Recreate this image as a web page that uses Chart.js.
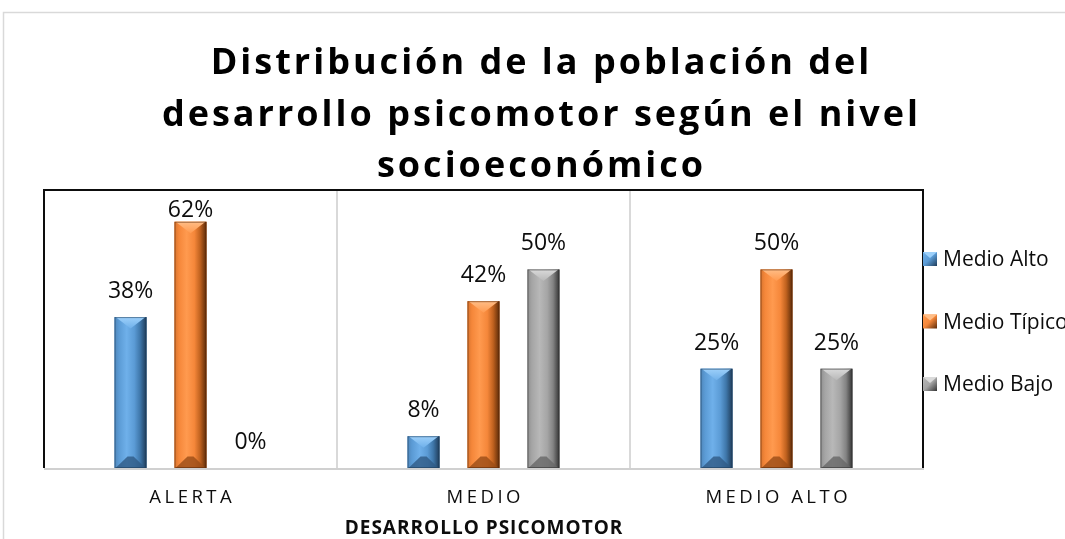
<!DOCTYPE html>
<html>
<head>
<meta charset="utf-8">
<script src="https://cdn.jsdelivr.net/npm/chart.js@4.4.1/dist/chart.umd.min.js"></script>
<style>
  html, body { margin: 0; padding: 0; background: #ffffff; }
  canvas { display: block; }
</style>
</head>
<body>
<canvas id="c" width="1065" height="539"></canvas>
<script>
// ---- data ----
const categories = ['ALERTA', 'MEDIO', 'MEDIO ALTO'];
const seriesNames = ['Medio Alto', 'Medio Típico', 'Medio Bajo'];
const medioAlto = [0.38, 0.08, 0.25];
const medioTipico = [0.62, 0.42, 0.50];
const medioBajo = [0.00, 0.50, 0.25];
const titleLines = ['Distribución de la población del', 'desarrollo psicomotor según el nivel', 'socioeconómico'];
const axisTitle = 'DESARROLLO PSICOMOTOR';

// ---- styles ----
const palettes = [
  { base: '#5b9bd5', edgeL: '#4f86ba', light: '#6fb0ea', mid: '#3f77aa', dark: '#1f3b58', top: '#9dd0fa', bottom: '#2f5a85', outline: 'rgba(30,60,90,0.55)' },
  { base: '#f5873a', edgeL: '#d8742e', light: '#ff9a4f', mid: '#c0621f', dark: '#5a2a08', top: '#ffbd86', bottom: '#9a4c16', outline: 'rgba(90,40,8,0.55)' },
  { base: '#a5a5a5', edgeL: '#8f8f8f', light: '#b8b8b8', mid: '#838383', dark: '#333333', top: '#dadada', bottom: '#666666', outline: 'rgba(50,50,50,0.55)' }
];
const FONT = '"Open Sans", "Noto Sans", sans-serif';

function drawSpaced(ctx, text, cx, y, spacing, align) {
  ctx.textAlign = 'left';
  if ('letterSpacing' in ctx) {
    ctx.letterSpacing = spacing + 'px';
    const w = ctx.measureText(text).width - spacing;
    const x = align === 'left' ? cx : cx - w / 2;
    ctx.fillText(text, x, y);
    ctx.letterSpacing = '0px';
  } else {
    let total = 0;
    const ws = [];
    for (const ch of text) { const w = ctx.measureText(ch).width; ws.push(w); total += w; }
    total += spacing * (ws.length - 1);
    let x = align === 'left' ? cx : cx - total / 2;
    let i = 0;
    for (const ch of text) { ctx.fillText(ch, x, y); x += ws[i++] + spacing; }
  }
}

function bevelBar(ctx, x0, x1, top, bottom, pal) {
  const w = x1 - x0, h = bottom - top;
  if (h < 1) return;
  ctx.save();
  const g = ctx.createLinearGradient(x0, 0, x1, 0);
  g.addColorStop(0, pal.edgeL);
  g.addColorStop(0.14, pal.base);
  g.addColorStop(0.38, pal.light);
  g.addColorStop(0.62, pal.base);
  g.addColorStop(0.8, pal.mid);
  g.addColorStop(1, pal.dark);
  ctx.fillStyle = g;
  ctx.fillRect(x0, top, w, h);
  const d = Math.min(w * 0.36, h / 2);
  const xc = x0 + w / 2;
  // top bevel
  const gt = ctx.createLinearGradient(0, top, 0, top + d);
  gt.addColorStop(0, pal.top);
  gt.addColorStop(1, pal.light);
  ctx.fillStyle = gt;
  ctx.beginPath();
  ctx.moveTo(x0 + 1, top);
  ctx.lineTo(x1 - 1, top);
  ctx.lineTo(xc, top + d);
  ctx.closePath();
  ctx.fill();
  // bottom bevel
  ctx.fillStyle = pal.bottom;
  ctx.globalAlpha = 0.8;
  ctx.beginPath();
  ctx.moveTo(x0 + 1, bottom);
  ctx.lineTo(x1 - 1, bottom);
  ctx.lineTo(xc + 3, bottom - d);
  ctx.lineTo(xc - 3, bottom - d);
  ctx.closePath();
  ctx.fill();
  ctx.globalAlpha = 1;
  ctx.strokeStyle = pal.outline;
  ctx.lineWidth = 1;
  ctx.strokeRect(x0 + 0.5, top + 0.5, w - 1, h - 1);
  ctx.restore();
}

const decor = {
  id: 'decor',
  beforeDraw(chart) {
    const ctx = chart.ctx;
    ctx.save();
    ctx.fillStyle = '#ffffff';
    ctx.fillRect(0, 0, chart.width, chart.height);
    ctx.strokeStyle = '#d9d9d9';
    ctx.lineWidth = 1.5;
    ctx.strokeRect(3.5, 12.5, chart.width + 40, chart.height + 40);
    ctx.restore();
  },
  beforeDatasetsDraw(chart) {
    const ctx = chart.ctx, a = chart.chartArea;
    ctx.save();
    ctx.strokeStyle = '#d0d0d0';
    ctx.lineWidth = 2;
    ctx.beginPath();
    ctx.moveTo(a.left, a.bottom + 1);
    ctx.lineTo(a.right + 1, a.bottom + 1);
    ctx.stroke();
    ctx.strokeStyle = '#0d0d0d';
    ctx.lineWidth = 2;
    ctx.beginPath();
    ctx.moveTo(a.left, a.bottom);
    ctx.lineTo(a.left, a.top);
    ctx.lineTo(a.right, a.top);
    ctx.lineTo(a.right, a.bottom);
    ctx.stroke();
    ctx.restore();
  },
  afterDatasetsDraw(chart) {
    const ctx = chart.ctx, a = chart.chartArea;
    ctx.save();
    chart.data.datasets.forEach((ds, di) => {
      const meta = chart.getDatasetMeta(di);
      meta.data.forEach((el) => {
        const p = el.getProps(['x', 'y', 'base', 'width'], true);
        bevelBar(ctx, p.x - p.width / 2, p.x + p.width / 2, p.y, p.base, palettes[di]);
      });
    });
    ctx.fillStyle = '#0d0d0d';
    ctx.font = '23px ' + FONT;
    ctx.textBaseline = 'alphabetic';
    ctx.textAlign = 'center';
    chart.data.datasets.forEach((ds, di) => {
      const meta = chart.getDatasetMeta(di);
      meta.data.forEach((el, i) => {
        const p = el.getProps(['x', 'y'], true);
        const base = Math.max(p.y - 19, a.top + 27);
        ctx.fillText(Math.round(ds.data[i] * 100) + '%', p.x, base);
      });
    });
    ctx.restore();
  },
  afterDraw(chart) {
    const ctx = chart.ctx, a = chart.chartArea;
    const xs = chart.scales.x;
    ctx.save();
    ctx.fillStyle = '#000000';
    ctx.textBaseline = 'alphabetic';
    ctx.font = 'bold 36px ' + FONT;
    const tBase = [74, 125.5, 177];
    titleLines.forEach((t, i) => drawSpaced(ctx, t, 540, tBase[i], 3));
    ctx.fillStyle = '#0d0d0d';
    ctx.font = '18.5px ' + FONT;
    categories.forEach((c, i) => drawSpaced(ctx, c, xs.getPixelForValue(i), 503, 3.5));
    ctx.font = 'bold 19px ' + FONT;
    drawSpaced(ctx, axisTitle, (a.left + a.right) / 2, 534, 1);
    const ly = [266, 328.5, 391];
    ctx.font = '21px ' + FONT;
    seriesNames.forEach((n, i) => {
      const pal = palettes[i];
      const mx = a.right, my = ly[i] - 14;
      const g = ctx.createLinearGradient(mx, my, mx + 14, my + 14);
      g.addColorStop(0, pal.light);
      g.addColorStop(0.5, pal.base);
      g.addColorStop(1, pal.dark);
      ctx.fillStyle = g;
      ctx.fillRect(mx, my, 14, 14);
      ctx.fillStyle = pal.top;
      ctx.beginPath();
      ctx.moveTo(mx, my); ctx.lineTo(mx + 14, my); ctx.lineTo(mx + 7, my + 6); ctx.closePath();
      ctx.fill();
      ctx.fillStyle = '#0d0d0d';
      drawSpaced(ctx, n, 943, ly[i], 0, 'left');
    });
    ctx.restore();
  }
};

new Chart(document.getElementById('c'), {
  type: 'bar',
  data: {
    labels: categories,
    datasets: [
      { label: seriesNames[0], data: medioAlto, backgroundColor: palettes[0].base },
      { label: seriesNames[1], data: medioTipico, backgroundColor: palettes[1].base },
      { label: seriesNames[2], data: medioBajo, backgroundColor: palettes[2].base }
    ]
  },
  options: {
    responsive: false,
    animation: false,
    devicePixelRatio: 1,
    layout: { padding: { left: 44, top: 190, right: 142, bottom: 71 } },
    datasets: { bar: { categoryPercentage: 0.614, barPercentage: 0.533, borderWidth: 0 } },
    scales: {
      x: {
        display: true,
        offset: true,
        grid: { display: true, offset: true, color: '#d9d9d9', lineWidth: 2, drawTicks: false },
        border: { display: false },
        ticks: { display: false }
      },
      y: { display: false, min: 0, max: 0.7 }
    },
    plugins: { legend: { display: false }, title: { display: false }, tooltip: { enabled: false } }
  },
  plugins: [decor]
});
</script>
</body>
</html>
